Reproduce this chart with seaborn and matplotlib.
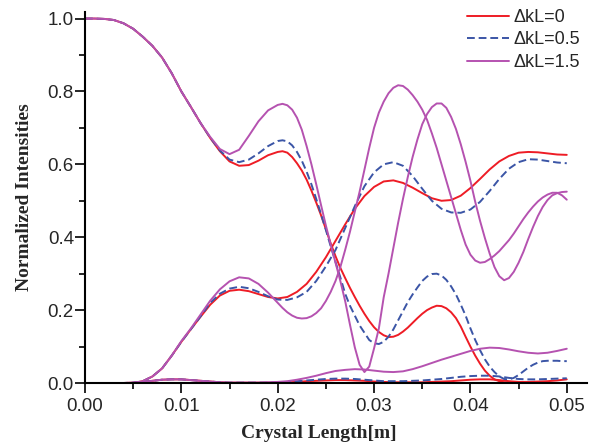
import numpy as np
import pandas as pd
import seaborn as sns
import matplotlib.pyplot as plt
from matplotlib.ticker import MultipleLocator, FormatStrFormatter

# crystal length grid [m], 1 mm steps
length_m = [0.000, 0.001, 0.002, 0.003, 0.004, 0.005, 0.006, 0.007, 0.008, 0.009,
            0.010, 0.011, 0.012, 0.013, 0.014, 0.015, 0.016, 0.017, 0.018, 0.019,
            0.020, 0.021, 0.022, 0.023, 0.024, 0.025, 0.026, 0.027, 0.028, 0.029,
            0.030, 0.031, 0.032, 0.033, 0.034, 0.035, 0.036, 0.037, 0.038, 0.039,
            0.040, 0.041, 0.042, 0.043, 0.044, 0.045, 0.046, 0.047, 0.048, 0.049,
            0.050]

# finer grid after 20 mm, where the curves oscillate fast
length_fine_m = [0.000, 0.001, 0.002, 0.003, 0.004, 0.005, 0.006, 0.007, 0.008, 0.009,
                 0.010, 0.011, 0.012, 0.013, 0.014, 0.015, 0.016, 0.017, 0.018, 0.019,
                 0.0200, 0.0205, 0.0210, 0.0215, 0.0220, 0.0225, 0.0230, 0.0235, 0.0240, 0.0245,
                 0.0250, 0.0255, 0.0260, 0.0265, 0.0270, 0.0275, 0.0280, 0.0285, 0.0290, 0.0295,
                 0.0300, 0.0305, 0.0310, 0.0315, 0.0320, 0.0325, 0.0330, 0.0335, 0.0340, 0.0345,
                 0.0350, 0.0355, 0.0360, 0.0365, 0.0370, 0.0375, 0.0380, 0.0385, 0.0390, 0.0395,
                 0.0400, 0.0405, 0.0410, 0.0415, 0.0420, 0.0425, 0.0430, 0.0435, 0.0440, 0.0445,
                 0.0450, 0.0455, 0.0460, 0.0465, 0.0470, 0.0475, 0.0480, 0.0485, 0.0490, 0.0495,
                 0.0500]

# dkL = 0
dk0_pump = [1.0, 1.0, 0.999, 0.996, 0.987, 0.972, 0.95, 0.925, 0.893, 0.85,
            0.80, 0.757, 0.713, 0.672, 0.636, 0.608, 0.596, 0.598, 0.61, 0.625,
            0.634, 0.636, 0.632, 0.62, 0.603, 0.583, 0.558, 0.528, 0.495, 0.46,
            0.422, 0.383, 0.348, 0.316, 0.288, 0.261, 0.236, 0.212, 0.19, 0.17,
            0.153, 0.14, 0.131, 0.126, 0.127, 0.132, 0.141, 0.152, 0.165, 0.178,
            0.19, 0.2, 0.207, 0.212, 0.211, 0.205, 0.194, 0.178, 0.155, 0.127,
            0.1, 0.075, 0.053, 0.034, 0.02, 0.01, 0.005, 0.002, 0.001, 0.0,
            0.0, 0.0, 0.0, 0.0, 0.0, 0.0, 0.0, 0.0, 0.0, 0.0,
            0.0]
dk0_signal = [0.0, 0.0, 0.0, 0.0, 0.0, 0.0, 0.005, 0.018, 0.04, 0.075,
              0.113, 0.148, 0.182, 0.215, 0.24, 0.253, 0.256, 0.252, 0.244, 0.236,
              0.232, 0.236, 0.25, 0.272, 0.305, 0.345, 0.39, 0.435, 0.478, 0.513,
              0.538, 0.553, 0.556, 0.549, 0.536, 0.521, 0.507, 0.5, 0.502, 0.514,
              0.535, 0.56, 0.586, 0.608, 0.623, 0.632, 0.634, 0.633, 0.63, 0.627,
              0.626]
dk0_third = [0.0, 0.0, 0.0, 0.0, 0.0, 0.001, 0.003, 0.006, 0.009, 0.01,
             0.01, 0.008, 0.006, 0.004, 0.002, 0.001, 0.001, 0.001, 0.001, 0.001,
             0.001, 0.002, 0.003, 0.005, 0.006, 0.007, 0.008, 0.008, 0.007, 0.006,
             0.004, 0.003, 0.002, 0.002, 0.002, 0.002, 0.003, 0.004, 0.005, 0.007,
             0.009, 0.01, 0.01, 0.008, 0.005, 0.003, 0.003, 0.004, 0.005, 0.007,
             0.01]

# dkL = 0.5
dk05_pump = [1.0, 1.0, 0.999, 0.996, 0.987, 0.972, 0.95, 0.925, 0.893, 0.85,
             0.80, 0.757, 0.713, 0.673, 0.638, 0.613, 0.606, 0.613, 0.63, 0.65,
             0.664, 0.666, 0.663, 0.652, 0.634, 0.61, 0.58, 0.545, 0.505, 0.463,
             0.42, 0.375, 0.332, 0.29, 0.245, 0.212, 0.185, 0.158, 0.138, 0.118,
             0.109, 0.107, 0.113, 0.127, 0.147, 0.172, 0.197, 0.222, 0.243, 0.262,
             0.28, 0.292, 0.299, 0.3, 0.295, 0.283, 0.265, 0.243, 0.215, 0.185,
             0.15, 0.118, 0.09, 0.065, 0.045, 0.03, 0.018, 0.011, 0.01, 0.014,
             0.022, 0.032, 0.042, 0.05, 0.056, 0.06, 0.061, 0.061, 0.061, 0.06,
             0.06]
dk05_signal = [0.0, 0.0, 0.0, 0.0, 0.0, 0.0, 0.005, 0.018, 0.04, 0.075,
               0.113, 0.148, 0.183, 0.22, 0.245, 0.259, 0.264, 0.26, 0.25, 0.238,
               0.229, 0.228, 0.235, 0.25, 0.28, 0.32, 0.365, 0.425, 0.485, 0.54,
               0.578, 0.6, 0.606, 0.596, 0.568, 0.533, 0.5, 0.478, 0.468, 0.467,
               0.476, 0.497, 0.527, 0.56, 0.588, 0.606, 0.614, 0.613, 0.609, 0.605,
               0.603]
dk05_third = [0.0, 0.0, 0.0, 0.0, 0.0, 0.001, 0.003, 0.006, 0.009, 0.01,
              0.01, 0.008, 0.006, 0.004, 0.002, 0.001, 0.001, 0.001, 0.001, 0.001,
              0.002, 0.003, 0.005, 0.007, 0.009, 0.011, 0.012, 0.012, 0.011, 0.009,
              0.007, 0.005, 0.005, 0.005, 0.006, 0.007, 0.009, 0.011, 0.014, 0.017,
              0.019, 0.02, 0.02, 0.018, 0.014, 0.011, 0.01, 0.01, 0.011, 0.012,
              0.013]

# dkL = 1.5
dk15_pump = [1.0, 1.0, 0.999, 0.996, 0.987, 0.972, 0.95, 0.925, 0.893, 0.85,
             0.80, 0.757, 0.713, 0.675, 0.642, 0.628, 0.64, 0.678, 0.718, 0.748,
             0.763, 0.766, 0.762, 0.75, 0.728, 0.695, 0.65, 0.60, 0.545, 0.488,
             0.432, 0.38, 0.33, 0.28, 0.225, 0.16, 0.098, 0.05, 0.03, 0.045,
             0.095, 0.15, 0.235, 0.3, 0.37, 0.44, 0.505, 0.565, 0.62, 0.668,
             0.71, 0.738, 0.757, 0.767, 0.767, 0.755, 0.73, 0.697, 0.655, 0.607,
             0.555, 0.497, 0.445, 0.398, 0.355, 0.318, 0.293, 0.282, 0.288, 0.305,
             0.33, 0.36, 0.395, 0.428, 0.458, 0.483, 0.502, 0.515, 0.521, 0.524,
             0.525]
dk15_signal = [0.0, 0.0, 0.0, 0.0, 0.0, 0.0, 0.005, 0.018, 0.04, 0.075,
               0.115, 0.15, 0.188, 0.226, 0.257, 0.279, 0.29, 0.287, 0.272, 0.248,
               0.22, 0.206, 0.194, 0.185, 0.179, 0.177, 0.178, 0.183, 0.192, 0.205,
               0.225, 0.25, 0.28, 0.318, 0.365, 0.415, 0.47, 0.525, 0.585, 0.645,
               0.70, 0.742, 0.772, 0.795, 0.81, 0.817, 0.815, 0.805, 0.79, 0.772,
               0.75, 0.722, 0.685, 0.645, 0.60, 0.555, 0.51, 0.465, 0.42, 0.38,
               0.352, 0.336, 0.33, 0.332, 0.34, 0.35, 0.362, 0.377, 0.392, 0.41,
               0.43, 0.45, 0.468, 0.484, 0.498, 0.509, 0.517, 0.522, 0.522, 0.515,
               0.503]
dk15_third = [0.0, 0.0, 0.0, 0.0, 0.0, 0.001, 0.003, 0.006, 0.009, 0.01,
              0.01, 0.008, 0.006, 0.004, 0.002, 0.001, 0.001, 0.001, 0.001, 0.002,
              0.003, 0.005, 0.009, 0.014, 0.02, 0.027, 0.033, 0.036, 0.038, 0.037,
              0.034, 0.031, 0.03, 0.032, 0.038, 0.046, 0.055, 0.064, 0.072, 0.08,
              0.088, 0.094, 0.097, 0.096, 0.092, 0.087, 0.083, 0.081, 0.083, 0.088,
              0.094]

dkl_labels = ['ΔkL=0', 'ΔkL=0.5', 'ΔkL=1.5']
curves = {
    'ΔkL=0': {'pump': (length_fine_m, dk0_pump),
              'signal': (length_m, dk0_signal),
              'third': (length_m, dk0_third)},
    'ΔkL=0.5': {'pump': (length_fine_m, dk05_pump),
                'signal': (length_m, dk05_signal),
                'third': (length_m, dk05_third)},
    'ΔkL=1.5': {'pump': (length_fine_m, dk15_pump),
                'signal': (length_fine_m, dk15_signal),
                'third': (length_m, dk15_third)},
}

rows = []
for dkl, waves in curves.items():
    for wave, (xs, ys) in waves.items():
        for x, y in zip(xs, ys):
            rows.append((dkl, wave, x, y))
df = pd.DataFrame(rows, columns=['dkl', 'wave', 'length', 'intensity'])

sns.set_style('ticks')
plt.rcParams['font.family'] = ['Liberation Sans', 'DejaVu Sans']

palette = {'ΔkL=0': '#EE1C25', 'ΔkL=0.5': '#3B55A6', 'ΔkL=1.5': '#B552B0'}
dashes = {'ΔkL=0': '', 'ΔkL=0.5': (4, 2), 'ΔkL=1.5': ''}

fig = plt.figure(figsize=(5.99, 4.46), dpi=100)
ax = fig.add_axes([85 / 599, 1 - 383 / 446, 502 / 599, 371 / 446])

sns.lineplot(data=df, x='length', y='intensity', hue='dkl', style='dkl',
             hue_order=dkl_labels, style_order=dkl_labels, units='wave',
             estimator=None, sort=False, palette=palette, dashes=dashes,
             linewidth=1.4, clip_on=False, ax=ax)

ax.set_xlim(0, 0.0521)
ax.set_ylim(0, 1.018)
ax.xaxis.set_major_locator(MultipleLocator(0.01))
ax.xaxis.set_minor_locator(MultipleLocator(0.005))
ax.yaxis.set_major_locator(MultipleLocator(0.2))
ax.yaxis.set_minor_locator(MultipleLocator(0.1))
ax.xaxis.set_major_formatter(FormatStrFormatter('%.2f'))
ax.yaxis.set_major_formatter(FormatStrFormatter('%.1f'))
ax.tick_params(which='major', direction='out', length=7, width=1.2,
               labelsize=13.5, color='black')
ax.tick_params(which='minor', direction='out', length=4, width=1.2, color='black')
ax.tick_params(axis='y', pad=1)
ax.tick_params(axis='x', pad=4)
sns.despine(ax=ax)
for side in ['left', 'bottom']:
    ax.spines[side].set_linewidth(1.5)
    ax.spines[side].set_color('black')

label_font = dict(family=['Liberation Serif', 'DejaVu Serif'], weight='bold', size=14)
ax.set_xlabel('Crystal Length[m]', **label_font)
ax.set_ylabel('Normalized Intensities', **label_font)
ax.xaxis.set_label_coords(0.465, -0.112)
ax.yaxis.set_label_coords(-0.104, 0.5)

leg = ax.get_legend()
handles = [h for h, t in zip(leg.legend_handles, leg.get_texts())
           if t.get_text() in dkl_labels]
ax.legend(handles, dkl_labels, loc='upper left',
          bbox_to_anchor=(467 / 599, 1 - 9 / 446), bbox_transform=fig.transFigure,
          frameon=False, fontsize=13, handlelength=2.3, handletextpad=0.3,
          labelspacing=0.3, borderpad=0, borderaxespad=0)

fig.savefig('out.png', dpi=100)
